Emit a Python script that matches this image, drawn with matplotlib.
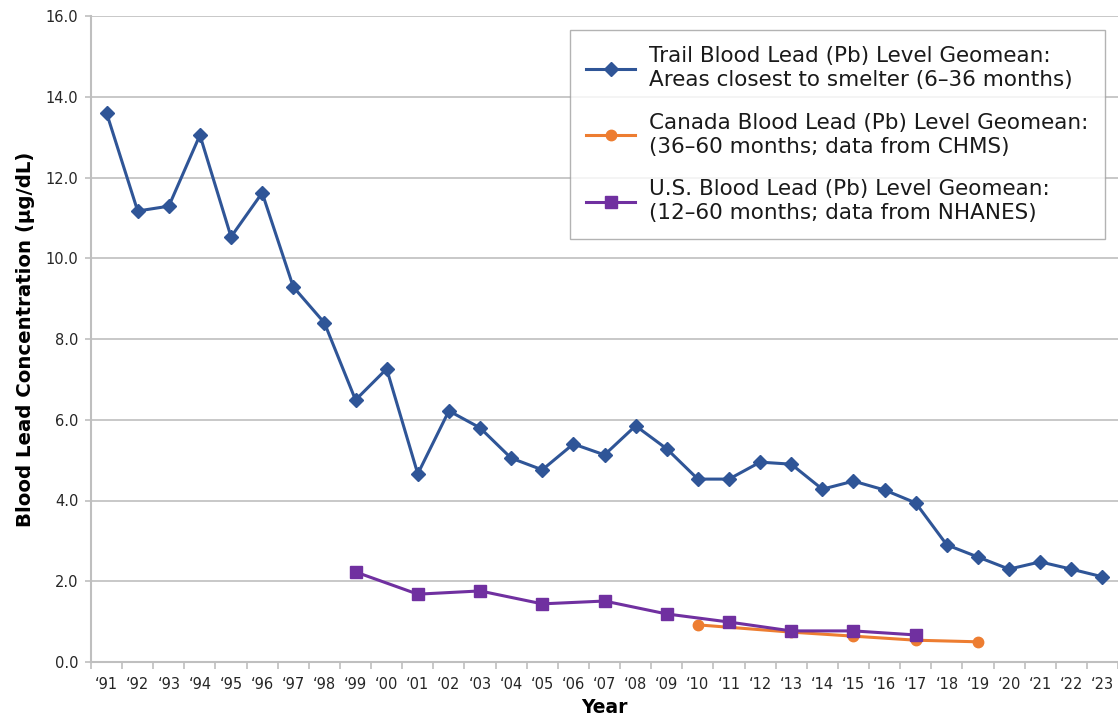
import matplotlib
matplotlib.use("Agg")
import matplotlib.pyplot as plt
import numpy as np

years = ["\u2018%02d" % (y % 100) for y in range(1991, 2024)]

trail_years = list(range(1991, 2024))
trail_vals = [13.6, 11.17, 11.29, 13.05, 10.53, 11.62, 9.29, 8.40, 6.49, 7.26,
              4.66, 6.22, 5.80, 5.05, 4.76, 5.40, 5.13, 5.85, 5.28, 4.53,
              4.53, 4.95, 4.90, 4.28, 4.48, 4.26, 3.94, 2.90, 2.60, 2.30,
              2.48, 2.30, 2.11]

canada_years = [2010, 2013, 2015, 2017, 2019]
canada_vals = [0.92, 0.74, 0.64, 0.54, 0.50]

us_years = [1999, 2001, 2003, 2005, 2007, 2009, 2011, 2013, 2015, 2017]
us_vals = [2.23, 1.68, 1.76, 1.44, 1.51, 1.19, 0.99, 0.77, 0.77, 0.67]

labels = ["Trail Blood Lead (Pb) Level Geomean:\nAreas closest to smelter (6\u201336 months)",
          "Canada Blood Lead (Pb) Level Geomean:\n(36\u201360 months; data from CHMS)",
          "U.S. Blood Lead (Pb) Level Geomean:\n(12\u201360 months; data from NHANES)"]

plt.rcParams['font.family'] = ['DejaVu Sans']

fig = plt.figure(figsize=(11.18, 7.21), dpi=100)
ax = fig.add_axes([91/1118, 59/721, 1027/1118, 646/721])

def idx(ys):
    return [y - 1991 for y in ys]

ax.plot(idx(trail_years), trail_vals, color="#2F5597", lw=2.2, marker="D",
        markersize=7.5, label=labels[0], zorder=3)
ax.plot(idx(canada_years), canada_vals, color="#ED7D31", lw=2.2, marker="o",
        markersize=7.5, label=labels[1], zorder=3)
ax.plot(idx(us_years), us_vals, color="#7030A0", lw=2.2, marker="s",
        markersize=8.5, label=labels[2], zorder=4)

ax.set_xlim(-0.5, len(years) - 0.5)
ax.set_ylim(0, 16)
ax.set_yticks(np.arange(0, 17, 2))
ax.set_yticklabels(["%.1f" % v for v in np.arange(0, 17, 2)])
ax.grid(axis="y", color="#BFBFBF", lw=1.2)
ax.set_axisbelow(True)

ax.set_xticks(np.arange(-0.5, len(years), 1.0))
ax.set_xticklabels([])
ax.set_xticks(np.arange(len(years)), minor=True)
ax.set_xticklabels(years, minor=True)
ax.tick_params(axis="x", which="major", length=5, color="#BFBFBF", width=1.2)
ax.tick_params(axis="x", which="minor", length=0, pad=11, labelsize=10.5, labelcolor="#262626")
ax.tick_params(axis="y", length=4, color="#BFBFBF", width=1.2, pad=5, labelsize=10.5, labelcolor="#262626")

for s in ["top", "right"]:
    ax.spines[s].set_visible(False)
for s in ["left", "bottom"]:
    ax.spines[s].set_color("#BFBFBF")
    ax.spines[s].set_linewidth(1.5)

ax.set_xlabel("Year", fontsize=13.5, fontweight="bold", labelpad=4)
ax.set_ylabel("Blood Lead Concentration (\u03bcg/dL)", fontsize=14.2, fontweight="bold", labelpad=8)

leg = ax.legend(loc="upper right", bbox_to_anchor=(1105/1118, 1 - 30/721),
                bbox_transform=fig.transFigure, borderaxespad=0,
                fontsize=15.5, frameon=True, fancybox=False, edgecolor="#A0A0A0",
                handlelength=2.3, labelspacing=1.05, borderpad=0.75, handletextpad=0.65)
leg.get_frame().set_linewidth(1.0)
for t in leg.get_texts():
    t.set_linespacing(1.25)
    t.set_color("#1a1a1a")

fig.savefig("out.png", dpi=100)
